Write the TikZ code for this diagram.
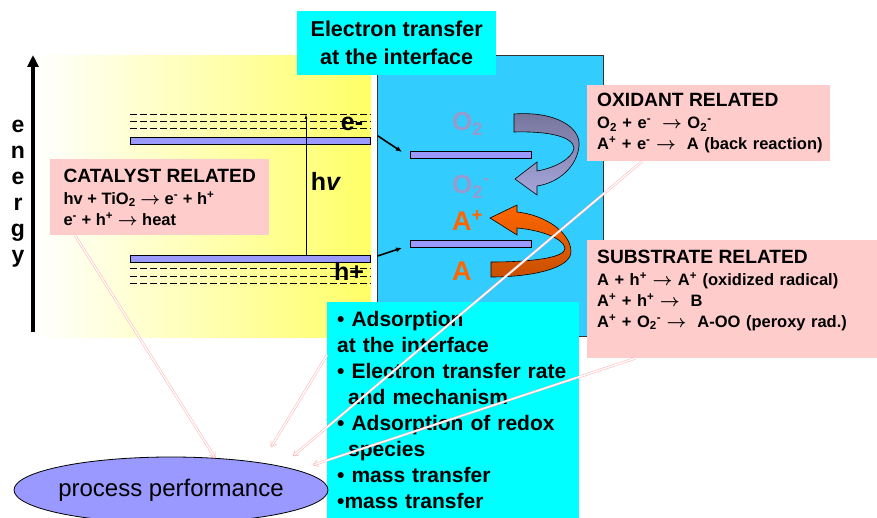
\documentclass[tikz,border=0pt]{standalone}
\usepackage{fontspec}
\setmainfont{Liberation Sans}
\usetikzlibrary{arrows.meta,positioning,shapes.geometric,calc}
\definecolor{pinkbg}{HTML}{FFCCCC}
\definecolor{cyanbg}{HTML}{00FFFF}
\definecolor{skybg}{HTML}{33CCFF}
\definecolor{bandc}{HTML}{9999FF}
\definecolor{yelbg}{HTML}{FFFF66}
\definecolor{oxc}{HTML}{9999CC}
\definecolor{orc}{HTML}{FF6600}
\definecolor{ordk}{HTML}{C85000}
\definecolor{gydk}{HTML}{74749A}
\definecolor{gylt}{HTML}{A6A6DC}
\definecolor{lnkc}{HTML}{FFB0B0}
\newcommand{\eqfont}{\fontsize{16.5}{21}\selectfont\bfseries}
\newcommand{\bigbf}{\fontsize{21}{26}\selectfont\bfseries}
\newcommand{\blkhead}[1]{{\fontsize{19.2}{21}\selectfont #1}}
\newcommand{\yields}{{\boldmath$\rightarrow$}}
\newcommand{\chup}[1]{\textsuperscript{#1}}
\newcommand{\chdn}[1]{\textsubscript{#1}}
\tikzset{
  pinkblk/.style = {fill=pinkbg, anchor=north west, align=left, inner xsep=10pt,
                    inner ysep=2pt, font=\eqfont},
  cyanblk/.style = {fill=cyanbg, anchor=north west, inner xsep=10pt, inner ysep=2pt,
                    font=\bigbf},
  band/.style    = {draw, fill=bandc, line width=0.8pt, anchor=north west,
                    minimum height=7pt, inner sep=0pt},
  lvl/.style     = {line width=0.7pt, dash pattern=on 7pt off 3pt},
  lblbig/.style  = {font=\fontsize{25}{28}\selectfont\bfseries, inner sep=0pt},
  mol/.style     = {anchor=base west, inner sep=0pt, font=\fontsize{26}{28}\selectfont\bfseries},
  ar/.style      = {-{Latex[length=6pt,width=5pt]}, line width=1.6pt},
  eax/.style     = {-{Triangle[length=12pt,width=11pt]}, line width=4pt},
  lnk/.style     = {draw=lnkc, double=white, double distance=1.4pt, line width=0.5pt,
                    -{Straight Barb[length=5pt,width=7pt]}}
}

\begin{document}
\begin{tikzpicture}[x=1pt, y=-1pt]
\useasboundingbox (0,0) rectangle (877,518);

% catalyst side
\node[left color=white, right color=yelbg, anchor=north west, inner sep=0pt,
      minimum width=336pt, minimum height=282pt] (tio) at (35,55) {};
\coordinate (ebot) at (33,332);
\coordinate (etop) at (33,55);
\draw[eax] (ebot) -- (etop);
\node[font=\fontsize{23}{26}\selectfont\bfseries, align=center, inner sep=0pt]
      (elbl) at (18,194) {e\\n\\e\\r\\g\\y};

\node[band, minimum width=240pt] (cbL) at (130,137) {};
\node[band, minimum width=240pt] (vbL) at (130,255) {};
\foreach \d in {9,16,23}
  \draw[lvl] ([yshift=\d pt]cbL.north west) -- ([yshift=\d pt]cbL.north east);
\foreach \d in {6,14,21}
  \draw[lvl] ([yshift=-\d pt]vbL.south west) -- ([yshift=-\d pt]vbL.south east);

\coordinate (hvtop) at (306,114);
\draw[-{Latex[length=5pt,width=3pt]}, line width=0.8pt] (hvtop |- vbL.north) -- (hvtop);
\node[lblbig] (hnu) at (326,181) {h\textit{v}};
\node[lblbig] (eminus) at (352,124) {e-};
\node[lblbig] (hplus) at (349,271) {h+};

% interface
\node[draw=black!80, line width=0.8pt, fill=skybg, anchor=north west,
      minimum width=226pt, minimum height=281pt] (iface) at (377,55) {};
\node[cyanblk, align=center, minimum width=199pt, minimum height=64pt,
      font=\fontsize{21.5}{26}\selectfont\bfseries] (etr) at (297,11)
      {Electron transfer\\[2pt] at the interface};

\node[band, minimum width=121pt] (cbR) at (410,151) {};
\node[band, minimum width=121pt] (vbR) at (410,240) {};
\draw[ar] ([xshift=7pt,yshift=5pt]cbL.east) -- ([xshift=-8pt,yshift=3pt]cbR.west);
\draw[ar] ([xshift=7pt,yshift=3pt]vbL.east) -- ([xshift=-8pt,yshift=-4pt]vbR.west);

\node[mol, text=oxc] (otwo) at (452,131) {O\chdn{2}};
\node[mol, text=oxc] (osup) at (452,194) {O\chdn{2}\chup{-}};
\node[mol, text=orc, font=\fontsize{27}{28}\selectfont\bfseries] (aplus) at (452,231) {A\chup{+}};
\node[mol, text=orc, font=\fontsize{27}{28}\selectfont\bfseries] (asub) at (452,280) {A};

% curled arrows
\draw[line width=0.6pt, top color=gydk, bottom color=gylt]
  (514,114) .. controls (555,111) and (581,127) .. (579,146)
  .. controls (577,167) and (558,183) .. (537,186)
  -- (537,195) -- (515,179) -- (537,162) -- (537,171)
  .. controls (555,168) and (573,158) .. (574,148)
  .. controls (573,137) and (550,131) .. (514,132) -- cycle;
\draw[line width=0.6pt, top color=orc, bottom color=ordk]
  (491,277) .. controls (533,277) and (572,268) .. (571,251)
  .. controls (570,232) and (545,215) .. (517,212)
  -- (517,205) -- (490,218) -- (517,235) -- (517,228)
  .. controls (540,230) and (563,238) .. (565,248)
  .. controls (566,258) and (530,262) .. (491,262) -- cycle;

% related boxes
\node[pinkblk, minimum width=219pt, minimum height=76pt] (cat) at (50,159)
      {\blkhead{CATALYST RELATED}\\[1pt]
       hv + TiO\chdn{2} \yields{} e\chup{-} + h\chup{+}\\
       e\chup{-} + h\chup{+} \yields{} heat};
\node[pinkblk, text width=223pt, minimum height=76pt] (ox) at (587,85)
      {\blkhead{OXIDANT RELATED}\\[1pt]
       O\chdn{2} + e\chup{-} \ \yields{} O\chdn{2}\chup{-}\\
       \mbox{A\chup{+} + e\chup{-} \yields{} \ A (back reaction)}};
\node[pinkblk, text width=270pt, minimum height=118pt] (sub) at (587,240)
      {\blkhead{SUBSTRATE RELATED}\\[1pt]
       A + h\chup{+} \yields{} A\chup{+} (oxidized radical)\\
       A\chup{+} + h\chup{+} \yields{} \ B\\
       A\chup{+} + O\chdn{2}\chup{-} \yields{} \ A-OO (peroxy rad.)\\
       \mbox{}};

\node[cyanblk, text width=232pt, align=left, minimum height=216pt] (bul) at (327,302)
      {• Adsorption\\
       at the interface\\
       • Electron transfer rate\\
       \hspace*{11pt}and mechanism\\
       • Adsorption of redox\\
       \hspace*{11pt}species\\
       • mass transfer\\
       •mass transfer};

\node[ellipse, draw, line width=0.8pt, fill=bandc, inner xsep=-15pt, inner ysep=0pt,
      minimum width=314pt, minimum height=66pt,
      font=\fontsize{24}{28}\selectfont] (perf) at (171,490) {process performance};

% influence links
\coordinate (p2) at (271,447);
\coordinate (p3) at (293,456);
\coordinate (p4) at (313,465);
\draw[lnk] ([xshift=25pt]cat.south west) -- (perf.36);
\draw[lnk] ([yshift=-53pt]bul.north west) -- (p2);
\draw[lnk] ([xshift=55pt]ox.south west) -- (p3);
\draw[lnk] ([xshift=48pt]sub.south west) -- (p4);
\end{tikzpicture}
\end{document}
